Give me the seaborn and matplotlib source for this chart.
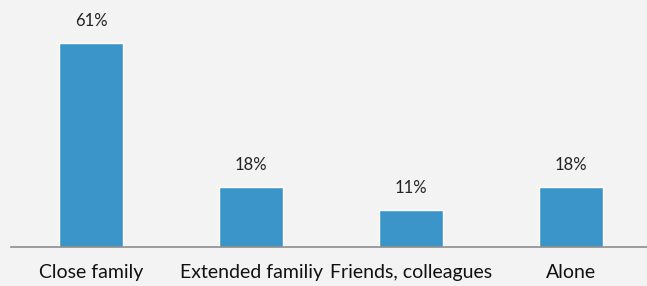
import matplotlib
matplotlib.use('Agg')
import matplotlib.pyplot as plt
import seaborn as sns
import pandas as pd

categories = ['Close family', 'Extended familiy', 'Friends, colleagues', 'Alone']
values = [61, 18, 11, 18]

sns.set_theme(style='white')
plt.rcParams['font.family'] = ['Lato', 'DejaVu Sans']

df = pd.DataFrame({'group': categories, 'share': values})

fig = plt.figure(figsize=(6.47, 2.86), dpi=100, facecolor='#f3f3f3')
ax = fig.add_axes([11 / 647, 39 / 286, 640 / 647, 247 / 286])
ax.set_facecolor('#f3f3f3')

sns.barplot(data=df, x='group', y='share', color='#3c95c9', width=0.4,
            saturation=1, ax=ax)

# value labels above the bars
for i, v in enumerate(values):
    ax.annotate(f'{v}%', (i, v), xytext=(0, 10), textcoords='offset points',
                ha='center', va='bottom', fontsize=12, color='#222222')

ax.set_xlim(-0.5, 3.5)
ax.set_ylim(0, 73.9)
ax.set_xlabel('')
ax.set_ylabel('')
ax.set_yticks([])
ax.tick_params(axis='x', length=0, pad=12, labelsize=14, labelcolor='#111111')
for s in ['top', 'right', 'left']:
    ax.spines[s].set_visible(False)
ax.spines['bottom'].set_color('#8c8c8c')
ax.spines['bottom'].set_linewidth(1.2)

fig.savefig('out.png', dpi=100, facecolor='#f3f3f3')
